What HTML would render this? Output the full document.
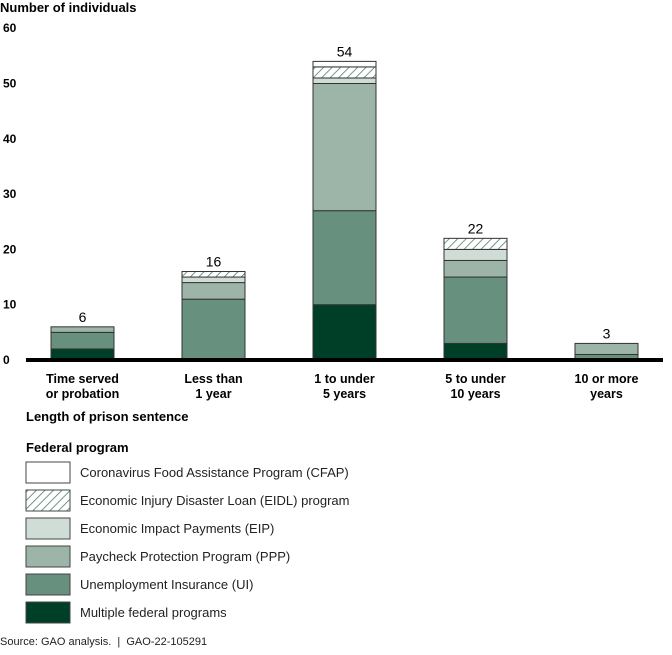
<!DOCTYPE html>
<html><head><meta charset="utf-8"><style>
body{margin:0;background:#fff;font-family:"Liberation Sans",Arial,sans-serif;}
svg text{font-family:"Liberation Sans",Arial,sans-serif;}
</style></head><body>
<svg id="chart" width="672" height="650" xmlns="http://www.w3.org/2000/svg">
<defs>
<pattern id="hatch" patternUnits="userSpaceOnUse" width="6" height="6" patternTransform="rotate(45)">
<rect width="6" height="6" fill="#fff"/><line x1="0" y1="0" x2="0" y2="6" stroke="#4f7d6b" stroke-width="1.6"/>
</pattern>
</defs>
<text x="0" y="12" font-size="13" font-weight="bold">Number of individuals</text>
<g id="yticks"></g>
<g id="bars"></g>
<rect x="26" y="358" width="637" height="4" fill="#000"/>
<g id="xlabels"></g>
<text x="26" y="421" font-size="13" font-weight="bold">Length of prison sentence</text>
<text x="26" y="452" font-size="13" font-weight="bold">Federal program</text>
<g id="legend"></g>
<text x="0" y="645" font-size="11" fill="#222">Source: GAO analysis.&#160;&#160;|&#160;&#160;GAO-22-105291</text>
</svg>
<script>
const categories = [["Time served","or probation"],["Less than","1 year"],["1 to under","5 years"],["5 to under","10 years"],["10 or more","years"]];
const multiple = [2, 0, 10, 3, 0];
const ui = [3, 11, 17, 12, 1];
const ppp = [1, 3, 23, 3, 2];
const eip = [0, 1, 1, 2, 0];
const eidl = [0, 1, 2, 2, 0];
const cfap = [0, 0, 1, 0, 0];
const totals = [6, 16, 54, 22, 3];
const yTicks = [0, 10, 20, 30, 40, 50, 60];
const seriesNames = ["Coronavirus Food Assistance Program (CFAP)","Economic Injury Disaster Loan (EIDL) program","Economic Impact Payments (EIP)","Paycheck Protection Program (PPP)","Unemployment Insurance (UI)","Multiple federal programs"];

const NS = "http://www.w3.org/2000/svg";
const y = v => 360 - v * 5.53;
const x = i => 51 + i * 131;
const bw = 63;
const series = [
  {vals: multiple, fill: "#003f27", key: "multiple"},
  {vals: ui, fill: "#68907e", key: "ui"},
  {vals: ppp, fill: "#9db5a8", key: "ppp"},
  {vals: eip, fill: "#d0dcd6", key: "eip"},
  {vals: eidl, fill: "url(#hatch)", key: "eidl"},
  {vals: cfap, fill: "#ffffff", key: "cfap"}
];
function mk(tag, attrs, parent, text) {
  const e = document.createElementNS(NS, tag);
  for (const k in attrs) e.setAttribute(k, attrs[k]);
  if (text !== undefined) e.textContent = text;
  parent.appendChild(e);
  return e;
}
const yt = document.getElementById("yticks");
yTicks.forEach(t => {
  const e = mk("text", {x: 3, y: y(t) + 4, "font-size": 12, "font-weight": "bold"}, yt, t);
  
  
});
const bars = document.getElementById("bars");
categories.forEach((c, i) => {
  let base = 0;
  series.forEach(s => {
    const v = s.vals[i];
    if (v > 0) {
      const r = mk("rect", {x: x(i), y: y(base + v), width: bw, height: v * 5.53, fill: s.fill, stroke: "#333", "stroke-width": 1}, bars);
      
      
    }
    base += s.vals[i];
  });
  const t = mk("text", {x: x(i) + bw / 2, y: y(totals[i]) - 5, "font-size": 14, "text-anchor": "middle"}, bars, totals[i]);
  
  
});
const xl = document.getElementById("xlabels");
categories.forEach((c, i) => {
  c.forEach((line, j) => {
    const t = mk("text", {x: x(i) + bw / 2, y: 383 + j * 15, "font-size": 12.5, "font-weight": "bold", "text-anchor": "middle"}, xl, line);
    
    
  });
});
const lg = document.getElementById("legend");
const legFills = ["#ffffff", "url(#hatch)", "#d0dcd6", "#9db5a8", "#68907e", "#003f27"];
seriesNames.forEach((n, i) => {
  const yy = 462 + i * 28;
  const r = mk("rect", {x: 26, y: yy, width: 44, height: 21, fill: legFills[i], stroke: "#444", "stroke-width": 1}, lg);
  
  
  const t = mk("text", {x: 80, y: yy + 15, "font-size": 13, fill: "#222"}, lg, n);
  
  
});
</script>
</body></html>
